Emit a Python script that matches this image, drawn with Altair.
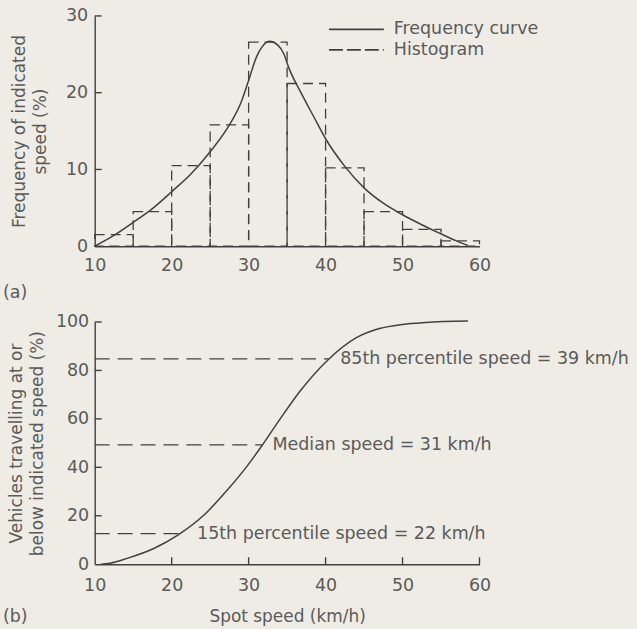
import altair as alt
import pandas as pd

# ---------------- data ----------------
bin_lo = [10, 15, 20, 25, 30, 35, 40, 45, 50, 55]
bin_hi = [15, 20, 25, 30, 35, 40, 45, 50, 55, 60]
hist_freq = [1.5, 4.5, 10.5, 15.8, 26.6, 21.2, 10.2, 4.5, 2.2, 0.7]

curve_speed = [10, 12.5, 15, 17.5, 20, 22.5, 25, 27.5, 29, 30, 31, 31.7, 32.7,
               33.8, 34.6, 35.2, 36.8, 38.5, 40, 42.5, 45, 47.5, 50, 52.5, 55,
               57, 58.5]
curve_freq = [0, 1.4, 3.1, 4.9, 7.1, 9.4, 12.3, 15.8, 18.7, 21.6, 24.6, 25.9,
              26.7, 26.2, 25.0, 23.3, 20.0, 16.8, 14.0, 10.4, 7.6, 5.6, 4.1,
              2.8, 1.6, 0.7, 0.1]

cum_speed = [10.8, 12, 14.3, 17.75, 20.8, 24.2, 27.2, 29.8, 31.7, 34.1, 36.7,
             40.2, 44, 47, 50, 53, 58.5]
cum_pct = [0, 0.4, 2.5, 6.6, 12.0, 20.3, 30.5, 40.5, 48.8, 60.0, 71.5, 84.0,
           93.5, 97.3, 99.0, 99.8, 100.4]

pct_text = ["15th percentile speed = 22 km/h",
            "Median speed = 31 km/h",
            "85th percentile speed = 39 km/h"]
pct_level = [12.6, 49.3, 84.8]
pct_cross = [21.0, 31.8, 40.4]
pct_text_x = [23.3, 33.1, 41.9]

legend_labels = ["Frequency curve", "Histogram"]

top_x_ticks = [10, 20, 30, 40, 50, 60]
top_y_ticks = [0, 10, 20, 30]
bot_x_ticks = [10, 20, 30, 40, 50, 60]
bot_y_ticks = [0, 20, 40, 60, 80, 100]

# ---------------- style ----------------
FONT = "DejaVu Sans"
TXT = "#5a5a5a"
LINE = "#404040"
BG = "#eeece5"
FS = 17.5
TFS = 17
W = 386
H1 = 231
H2 = 243
X_MIN, X_MAX = 10, 60
Y1_MAX, Y2_MAX = 30, 100
TICK = 7  # inward tick length in px

# tick lengths converted to data units of each scale
tx_len = TICK * (X_MAX - X_MIN) / W
ty2_len = TICK * Y2_MAX / H2

# ---------------- top panel ----------------
hist_df = pd.DataFrame({"lo": bin_lo, "hi": bin_hi, "freq": hist_freq,
                        "base": [0] * len(bin_lo)})
curve_df = pd.DataFrame({"speed": curve_speed, "freq": curve_freq})

xs1 = alt.Scale(domain=[X_MIN, X_MAX], nice=False, zero=False)
ys1 = alt.Scale(domain=[0, Y1_MAX], nice=False)

xaxis1 = alt.Axis(values=top_x_ticks, ticks=False, labelPadding=10, title=None,
                  grid=False, labelFlush=False)
yaxis1 = alt.Axis(values=top_y_ticks, ticks=False, labelPadding=7,
                  title=["Frequency of indicated", "speed (%)"],
                  titlePadding=16, grid=False, labelFlush=False)

hist = alt.Chart(hist_df).mark_rect(
    fillOpacity=0, stroke=LINE, strokeWidth=1.3, strokeDash=[10, 6]
).encode(
    x=alt.X("lo:Q", scale=xs1, axis=xaxis1),
    x2="hi:Q",
    y=alt.Y("freq:Q", scale=ys1, axis=yaxis1),
    y2="base:Q",
)

curve = alt.Chart(curve_df).mark_line(
    color=LINE, strokeWidth=1.5, interpolate="monotone"
).encode(
    x=alt.X("speed:Q", scale=xs1),
    y=alt.Y("freq:Q", scale=ys1),
)

yt1_df = pd.DataFrame({"v": top_y_ticks[1:]})
yt1_df["a"] = X_MIN
yt1_df["b"] = X_MIN + tx_len
ytick1 = alt.Chart(yt1_df).mark_rule(strokeWidth=1.4, color=LINE).encode(
    y=alt.Y("v:Q", scale=ys1),
    x=alt.X("a:Q", scale=xs1),
    x2="b:Q",
)

leg_df = pd.DataFrame({"label": legend_labels})
LEG_Y = [13.5, 34]


def legend_row(i, dash):
    base = alt.Chart(leg_df).transform_filter(alt.datum.label == legend_labels[i])
    kw = dict(color=LINE, strokeWidth=1.6)
    if dash:
        kw["strokeDash"] = dash
    line = base.mark_rule(**kw).encode(
        x=alt.value(235), x2=alt.value(290), y=alt.value(LEG_Y[i])
    )
    txt = base.mark_text(
        align="left", baseline="middle", fontSize=FS, color=TXT, font=FONT
    ).encode(x=alt.value(300), y=alt.value(LEG_Y[i]), text="label:N")
    return line, txt


l1, t1 = legend_row(0, None)
l2, t2 = legend_row(1, [14, 4])

lab_a = alt.Chart(pd.DataFrame({"t": ["(a)"]})).mark_text(
    align="left", baseline="middle", fontSize=FS, color=TXT, font=FONT
).encode(x=alt.value(-92), y=alt.value(278), text="t:N")

top = alt.layer(hist, curve, ytick1, l1, t1, l2, t2, lab_a).properties(
    width=W, height=H1
)

# ---------------- bottom panel ----------------
cum_df = pd.DataFrame({"speed": cum_speed, "pct": cum_pct})
pct_df = pd.DataFrame({"text": pct_text, "level": pct_level,
                       "cross": pct_cross, "tx": pct_text_x,
                       "start": [X_MIN] * len(pct_text)})

xs2 = alt.Scale(domain=[X_MIN, X_MAX], nice=False, zero=False)
ys2 = alt.Scale(domain=[0, Y2_MAX], nice=False)

xaxis2 = alt.Axis(values=bot_x_ticks, ticks=False, labelPadding=12,
                  title="Spot speed (km/h)", titlePadding=15, grid=False,
                  labelFlush=False)
yaxis2 = alt.Axis(values=bot_y_ticks, ticks=False, labelPadding=6,
                  title=["Vehicles travelling at or", "below indicated speed (%)"],
                  titlePadding=9, grid=False, labelFlush=False)

cum_line = alt.Chart(cum_df).mark_line(
    color=LINE, strokeWidth=1.5, interpolate="monotone", clip=False
).encode(
    x=alt.X("speed:Q", scale=xs2, axis=xaxis2),
    y=alt.Y("pct:Q", scale=ys2, axis=yaxis2),
)

pct_rules = alt.Chart(pct_df).mark_rule(
    color=LINE, strokeWidth=1.3, strokeDash=[15, 8]
).encode(
    x=alt.X("start:Q", scale=xs2),
    x2="cross:Q",
    y=alt.Y("level:Q", scale=ys2),
)

pct_labels = alt.Chart(pct_df).mark_text(
    align="left", baseline="middle", fontSize=FS, color=TXT, font=FONT
).encode(
    x=alt.X("tx:Q", scale=xs2),
    y=alt.Y("level:Q", scale=ys2),
    text="text:N",
)

yt2_df = pd.DataFrame({"v": bot_y_ticks[1:]})
yt2_df["a"] = X_MIN
yt2_df["b"] = X_MIN + tx_len
ytick2 = alt.Chart(yt2_df).mark_rule(strokeWidth=1.4, color=LINE).encode(
    y=alt.Y("v:Q", scale=ys2),
    x=alt.X("a:Q", scale=xs2),
    x2="b:Q",
)

xt2_df = pd.DataFrame({"v": bot_x_ticks[1:]})
xt2_df["a"] = 0
xt2_df["b"] = ty2_len
xtick2 = alt.Chart(xt2_df).mark_rule(strokeWidth=1.4, color=LINE).encode(
    x=alt.X("v:Q", scale=xs2),
    y=alt.Y("a:Q", scale=ys2),
    y2="b:Q",
)

lab_b = alt.Chart(pd.DataFrame({"t": ["(b)"]})).mark_text(
    align="left", baseline="middle", fontSize=FS, color=TXT, font=FONT
).encode(x=alt.value(-92), y=alt.value(296), text="t:N")

bottom = alt.layer(cum_line, pct_rules, pct_labels, ytick2, xtick2, lab_b).properties(
    width=W, height=H2
)

chart = alt.vconcat(top, bottom, spacing=76, bounds="flush").configure(
    background=BG,
    padding={"left": 3, "top": 6, "right": 8, "bottom": 2},
).configure_axis(
    labelFont=FONT, titleFont=FONT, labelColor=TXT, titleColor=TXT,
    labelFontSize=FS, titleFontSize=TFS, titleFontWeight="normal",
    domainColor=LINE, domainWidth=1.4, titleLineHeight=21,
).configure_view(stroke=None)

chart.save("out.html", embed_options={"renderer": "svg", "actions": False})
